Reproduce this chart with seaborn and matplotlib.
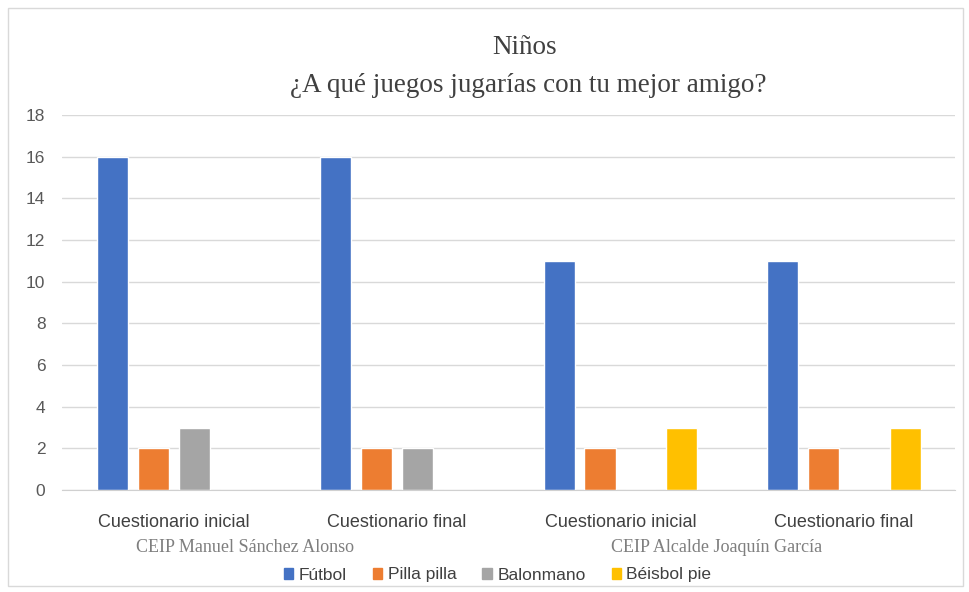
import pandas as pd
import numpy as np
import seaborn as sns
import matplotlib.pyplot as plt
from matplotlib.patches import Rectangle

# data
categories = ['Cuestionario inicial', 'Cuestionario final', 'Cuestionario inicial ', 'Cuestionario final ']
series = ['Fútbol', 'Pilla pilla', 'Balonmano', 'Béisbol pie']
futbol = [16, 16, 11, 11]
pilla = [2, 2, 2, 2]
balonmano = [3, 2, 0, 0]
beisbol = [0, 0, 3, 3]
schools = ['CEIP Manuel Sánchez Alonso', 'CEIP Alcalde Joaquín García']
colors = ['#4472C4', '#ED7D31', '#A5A5A5', '#FFC000']

rows = []
for name, vals in zip(series, [futbol, pilla, balonmano, beisbol]):
    for cat, v in zip(categories, vals):
        rows.append({'cat': cat, 'serie': name, 'val': v})
df = pd.DataFrame(rows)

sns.set_style('white')
plt.rcParams['font.family'] = ['Liberation Sans', 'DejaVu Sans']

fig = plt.figure(figsize=(9.7, 5.92), dpi=100)
ax = fig.add_axes([0.064, 0.172, 0.921, 0.634])

sns.barplot(data=df, x='cat', y='val', hue='serie', order=categories,
            hue_order=series, palette=colors, width=0.732, gap=0.24,
            saturation=1, legend=False, ax=ax)

ax.set_ylim(0, 18)
ax.set_yticks(range(0, 19, 2))
ax.set_xlim(-0.5, 3.5)
ax.yaxis.grid(True, color='#D9D9D9', linewidth=1)
ax.set_axisbelow(True)
for s in ['top', 'right', 'left']:
    ax.spines[s].set_visible(False)
ax.spines['bottom'].set_color('#D0D0D0')
ax.set_xlabel('')
ax.set_ylabel('')
ax.set_xticks(range(4))
ax.set_xticklabels([c.strip() for c in categories])
ax.tick_params(axis='x', length=0, pad=17, labelsize=13, labelcolor='#404040')
ax.tick_params(axis='y', length=0, pad=12, labelsize=12.5, labelcolor='#595959')

# titles
fig.text(0.541, 1 - 48 / 592, 'Niños', ha='center', va='center', fontsize=19.5,
         family='Liberation Serif', color='#404040')
fig.text(0.545, 1 - 85 / 592, '¿A qué juegos jugarías con tu mejor amigo?', ha='center',
         va='center', fontsize=19.5, family='Liberation Serif', color='#404040')

# school labels under the category labels
fig.text(245 / 970, 1 - 547 / 592, schools[0], ha='center', va='center',
         fontsize=13, family='Liberation Serif', color='#7F7F7F')
fig.text(717 / 970, 1 - 547 / 592, schools[1], ha='center', va='center',
         fontsize=13, family='Liberation Serif', color='#7F7F7F')

# legend
handles = [Rectangle((0, 0), 1, 1, color=c) for c in colors]
fig.legend(handles, series, loc='center', bbox_to_anchor=(0.513, 1 - 575 / 592),
           ncol=4, frameon=False, fontsize=12.5, handlelength=0.55, handleheight=0.55,
           handletextpad=0.3, columnspacing=1.5, labelcolor='#404040')

# outer chart border
fig.patches.append(Rectangle((8 / 970, 0.01), 0.985, 1 - 8 / 592 - 0.01,
                             transform=fig.transFigure, fill=False,
                             edgecolor='#D9D9D9', linewidth=1))

plt.savefig('out.png', dpi=100)
